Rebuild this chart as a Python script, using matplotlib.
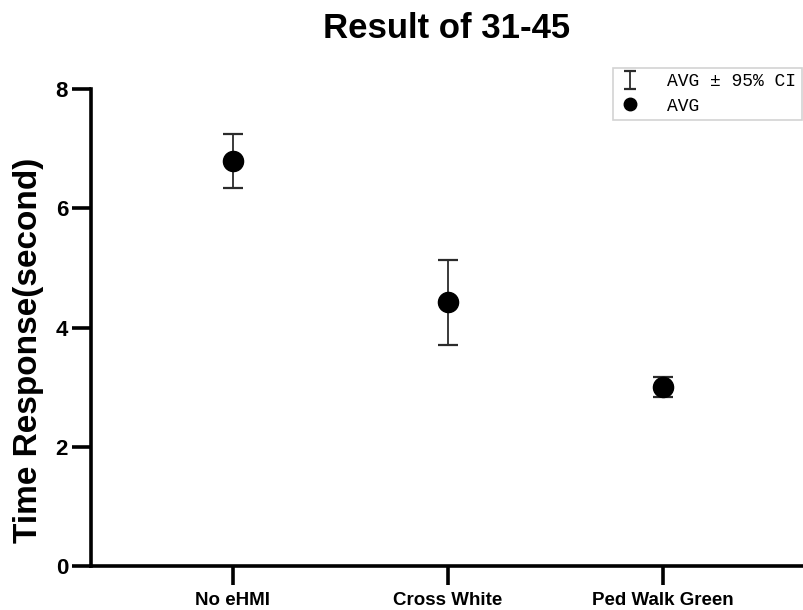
import matplotlib
matplotlib.use("Agg")
import matplotlib.pyplot as plt
from matplotlib.lines import Line2D
import numpy as np

# Mean response time and 95% CI bounds per eHMI condition
categories = ["No eHMI", "Cross White", "Ped Walk Green"]
avg = [6.80, 4.42, 3.01]
ci_low = [6.34, 3.70, 2.84]
ci_high = [7.25, 5.13, 3.17]
yticks = [0, 2, 4, 6, 8]

plt.rcParams["font.family"] = ["Liberation Sans", "DejaVu Sans"]

fig = plt.figure(figsize=(8.04, 6.10), dpi=100)
ax = fig.add_axes([91 / 804, 44 / 610, 716 / 804, 477 / 610])

x = np.arange(len(categories))
avg_arr = np.array(avg)
yerr = np.vstack([avg_arr - np.array(ci_low), np.array(ci_high) - avg_arr])

eb = ax.errorbar(x, avg_arr, yerr=yerr, fmt="none", ecolor="#2b2b2b",
                 elinewidth=1.3, capsize=7.2, capthick=1.6,
                 label="AVG \u00b1 95% CI", zorder=2)
pts, = ax.plot(x, avg_arr, linestyle="none", marker="o", markersize=14.5,
               color="black", label="AVG", zorder=3)

ax.set_xlim(-0.66, 2.67)
ax.set_ylim(0, 8)
ax.set_yticks(yticks)
ax.set_yticklabels([str(t) for t in yticks], fontsize=16, fontweight="bold")
ax.set_xticks(x)
ax.set_xticklabels(categories, fontsize=13.5, fontweight="bold")

for side in ("top", "right"):
    ax.spines[side].set_visible(False)
for side in ("left", "bottom"):
    ax.spines[side].set_linewidth(2.6)
ax.tick_params(axis="both", length=13.5, width=2.6, color="black")
ax.tick_params(axis="y", pad=3)
ax.tick_params(axis="x", pad=5)

fig.text(29 / 804, 1 - 350 / 610, "Time Response(second)", fontsize=24,
         fontweight="bold", rotation=90, ha="center", va="center")
fig.text(447 / 804, 1 - 29 / 610, "Result of 31-45", fontsize=25,
         fontweight="bold", ha="center", va="center")

leg = ax.legend(handles=[eb, pts], loc="upper left",
                bbox_to_anchor=(613 / 804, 1 - 68 / 610),
                bbox_transform=fig.transFigure, borderaxespad=0,
                prop={"family": ["Liberation Mono", "DejaVu Sans Mono"], "size": 13},
                frameon=True, fancybox=False, edgecolor="#c8c8c8",
                borderpad=0.3, labelspacing=0.4, handlelength=1.3,
                handletextpad=1.4, markerscale=0.62)
leg.get_frame().set_linewidth(1.2)
# narrower caps on the legend's error-bar glyph
for ln in leg.findobj(Line2D):
    if ln.get_marker() == "_":
        ln.set_markersize(8)

fig.savefig("out.png", dpi=100)
